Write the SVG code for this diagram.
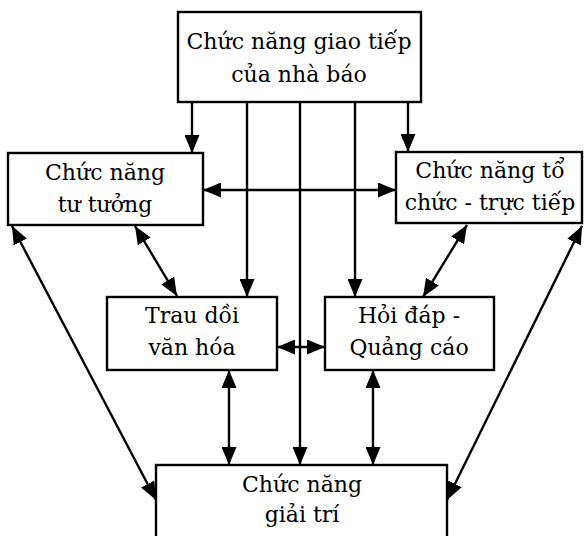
<svg xmlns="http://www.w3.org/2000/svg" width="584" height="536" viewBox="0 0 584 536">
  <style>
    .box { fill: #ffffff; stroke: #000000; stroke-width: 2.4; }
    .label { font-family: "DejaVu Serif", "Liberation Serif", serif; font-size: 22px; fill: #000000; text-anchor: middle; }
    .link { fill: none; stroke: #000000; stroke-width: 2.4; }
  </style>
  <defs>
    <marker id="head" viewBox="0 0 18 15" refX="18" refY="7.5" markerWidth="18" markerHeight="15" markerUnits="userSpaceOnUse" orient="auto-start-reverse">
      <path d="M0,0 L18,7.5 L0,15 Z" fill="#000000"/>
    </marker>
  </defs>
  <rect width="584" height="536" fill="#ffffff"/>

  <g id="connectors">
    <!-- from the top box straight down -->
    <line class="link" x1="192" y1="102" x2="192" y2="153" marker-end="url(#head)"/>
    <line class="link" x1="408" y1="102" x2="408" y2="152" marker-end="url(#head)"/>
    <line class="link" x1="247" y1="102" x2="247" y2="297" marker-end="url(#head)"/>
    <line class="link" x1="355" y1="102" x2="355" y2="297" marker-end="url(#head)"/>
    <line class="link" x1="300" y1="102" x2="300" y2="465" marker-end="url(#head)"/>
    <!-- two-way links -->
    <line class="link" x1="203" y1="190" x2="396" y2="190" marker-start="url(#head)" marker-end="url(#head)"/>
    <line class="link" x1="277" y1="347" x2="325" y2="347" marker-start="url(#head)" marker-end="url(#head)"/>
    <line class="link" x1="135" y1="226" x2="177" y2="296" marker-start="url(#head)" marker-end="url(#head)"/>
    <line class="link" x1="467" y1="225" x2="423" y2="297" marker-start="url(#head)" marker-end="url(#head)"/>
    <line class="link" x1="12" y1="226" x2="156" y2="500" marker-start="url(#head)" marker-end="url(#head)"/>
    <line class="link" x1="582" y1="226" x2="447" y2="500" marker-start="url(#head)" marker-end="url(#head)"/>
    <line class="link" x1="229" y1="370" x2="229" y2="465" marker-start="url(#head)" marker-end="url(#head)"/>
    <line class="link" x1="373" y1="370" x2="373" y2="465" marker-start="url(#head)" marker-end="url(#head)"/>
  </g>

  <g id="giao-tiep">
    <rect class="box" x="178" y="12" width="243" height="90"/>
    <text class="label" x="299" y="49">Chức năng giao tiếp</text>
    <text class="label" x="299" y="82">của nhà báo</text>
  </g>

  <g id="tu-tuong">
    <rect class="box" x="8" y="153" width="195" height="72"/>
    <text class="label" x="105" y="180">Chức năng</text>
    <text class="label" x="105" y="212">tư tưởng</text>
  </g>

  <g id="to-chuc">
    <rect class="box" x="396" y="152" width="186" height="71"/>
    <text class="label" x="490" y="178">Chức năng tổ</text>
    <text class="label" x="490" y="210">chức - trực tiếp</text>
  </g>

  <g id="trau-doi">
    <rect class="box" x="107" y="297" width="170" height="73"/>
    <text class="label" x="192" y="323">Trau dồi</text>
    <text class="label" x="192" y="355">văn hóa</text>
  </g>

  <g id="hoi-dap">
    <rect class="box" x="325" y="297" width="169" height="73"/>
    <text class="label" x="409" y="323">Hỏi đáp -</text>
    <text class="label" x="409" y="355">Quảng cáo</text>
  </g>

  <g id="giai-tri">
    <rect class="box" x="156" y="465" width="291" height="80"/>
    <text class="label" x="302" y="492">Chức năng</text>
    <text class="label" x="302" y="522">giải trí</text>
  </g>
</svg>
